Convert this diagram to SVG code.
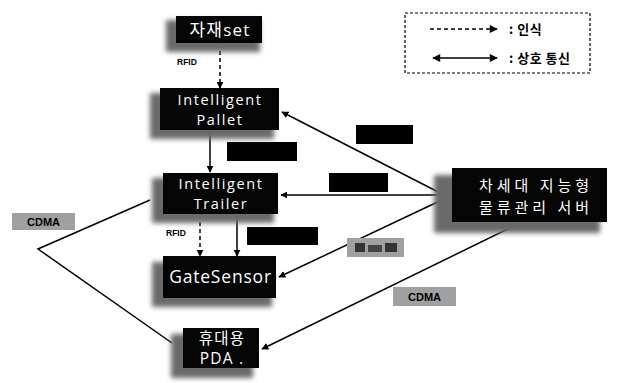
<svg xmlns="http://www.w3.org/2000/svg" width="629" height="383" viewBox="0 0 629 383">
  <defs>
    <filter id="haze" x="-30%" y="-30%" width="160%" height="160%">
      <feGaussianBlur stdDeviation="2.5"/>
    </filter>
    <marker id="tip" viewBox="0 0 10 10" refX="9" refY="5" markerWidth="7" markerHeight="7" orient="auto-start-reverse" markerUnits="userSpaceOnUse">
      <path d="M0,0 L10,5 L0,10 z" fill="#000"/>
    </marker>
    <marker id="tipLg" viewBox="0 0 10 10" refX="9" refY="5" markerWidth="10" markerHeight="8" orient="auto-start-reverse" markerUnits="userSpaceOnUse">
      <path d="M0,0 L10,5 L0,10 z" fill="#000"/>
    </marker>
  </defs>
  <style>
    .box { fill: #050505; }
    .shade { fill: #6a6a6a; filter: url(#haze); }
    .nt { fill: #fff; font-family: "Open Sans", "Noto Sans", "Noto Sans CJK KR", sans-serif; font-size: 14.5px; letter-spacing: 1.6px; text-anchor: middle; }
    .kr { fill: #fff; font-family: "Noto Sans CJK KR", sans-serif; font-size: 15px; text-anchor: middle; letter-spacing: 4px; }
    .tag { fill: #000; font-family: "Liberation Sans", Arial, sans-serif; font-size: 8.5px; font-weight: bold; }
    .cdma { fill: #000; font-family: "Liberation Sans", Arial, sans-serif; font-size: 11px; font-weight: bold; text-anchor: middle; }
    .lg { fill: #000; font-family: "Noto Sans CJK KR", sans-serif; font-size: 13px; font-weight: bold; letter-spacing: 0.5px; }
    .ln { stroke: #000; stroke-width: 1.5; fill: none; }
    .dash { stroke-dasharray: 4 3; }
    .blk { fill: #000; }
    .gry { fill: #a0a0a0; }
  </style>

  <rect width="629" height="383" fill="#fff"/>

  <!-- legend -->
  <g id="legend">
    <rect x="405" y="13" width="185" height="60" fill="none" stroke="#000" stroke-width="1.2" stroke-dasharray="3 2"/>
    <line x1="430" y1="29" x2="497" y2="29" class="ln dash" marker-end="url(#tipLg)"/>
    <text x="509" y="34" class="lg">: 인식</text>
    <line x1="433" y1="58" x2="497" y2="58" class="ln" marker-start="url(#tipLg)" marker-end="url(#tipLg)"/>
    <text x="509" y="63" class="lg">: 상호 통신</text>
  </g>

  <!-- connectors -->
  <g id="connectors">
    <line x1="220" y1="44" x2="220" y2="88" class="ln dash" marker-end="url(#tip)"/>
    <line x1="210" y1="131" x2="210" y2="172" class="ln" marker-end="url(#tip)"/>
    <line x1="200" y1="215" x2="200" y2="256" class="ln dash" marker-end="url(#tip)"/>
    <line x1="237" y1="215" x2="237" y2="256" class="ln" marker-end="url(#tip)"/>
    <line x1="446" y1="196" x2="282" y2="112" class="ln" marker-end="url(#tip)"/>
    <line x1="446" y1="195" x2="281" y2="195" class="ln" marker-end="url(#tip)"/>
    <line x1="446" y1="198" x2="279" y2="277" class="ln" marker-end="url(#tip)"/>
    <line x1="516" y1="225" x2="262" y2="349" class="ln" marker-end="url(#tip)"/>
    <polyline points="150,200 38,249 172,343" class="ln"/>

    <!-- edge labels -->
    <text x="177" y="65" class="tag">RFID</text>
    <text x="166" y="236" class="tag">RFID</text>
    <rect x="227" y="142" width="70" height="19" class="blk"/>
    <rect x="247" y="227" width="71" height="18" class="blk"/>
    <rect x="356" y="125" width="57" height="19" class="blk"/>
    <rect x="329" y="173" width="59" height="19" class="blk"/>
    <rect x="347" y="238" width="57" height="19" class="gry"/>
    <rect x="355" y="243" width="10" height="9" fill="#333"/>
    <rect x="368" y="245" width="14" height="7" fill="#444"/>
    <rect x="385" y="243" width="12" height="9" fill="#333"/>
    <rect x="12" y="213" width="63" height="17" class="gry"/>
    <text x="43.5" y="226" class="cdma">CDMA</text>
    <rect x="393" y="287" width="63" height="19" class="gry"/>
    <text x="424.5" y="301" class="cdma">CDMA</text>
  </g>

  <!-- nodes -->
  <g id="material">
    <rect x="166" y="20" width="94" height="32" class="shade"/>
    <rect x="176" y="16" width="86" height="27" class="box"/>
    <text x="220" y="36" class="nt" style="font-size:17px;letter-spacing:1.2px">자재set</text>
  </g>

  <g id="pallet">
    <rect x="150" y="93" width="124" height="46" class="shade"/>
    <rect x="160" y="88" width="119" height="42" class="box"/>
    <text x="220" y="105" class="nt">Intelligent</text>
    <text x="220" y="125" class="nt">Pallet</text>
  </g>

  <g id="trailer">
    <rect x="152" y="178" width="122" height="45" class="shade"/>
    <rect x="163" y="173" width="115" height="41" class="box"/>
    <text x="221" y="189" class="nt">Intelligent</text>
    <text x="221" y="209" class="nt">Trailer</text>
  </g>

  <g id="gatesensor">
    <rect x="152" y="262" width="120" height="45" class="shade"/>
    <rect x="163" y="256" width="113" height="42" class="box"/>
    <text x="220.5" y="283" class="nt" style="font-size:17.5px;letter-spacing:0.8px">GateSensor</text>
  </g>

  <g id="pda">
    <rect x="171" y="334" width="82" height="44" class="shade"/>
    <rect x="183" y="328" width="76" height="40" class="box"/>
    <text x="222" y="344" class="nt" style="font-size:15.5px;letter-spacing:1.2px">휴대용</text>
    <text x="222" y="364" class="nt" style="font-size:15.5px;letter-spacing:1.2px">PDA .</text>
  </g>

  <g id="server">
    <rect x="434" y="175" width="166" height="58" class="shade"/>
    <rect x="452" y="168" width="155" height="54" class="box"/>
    <text x="536" y="191" class="kr">차세대 지능형</text>
    <text x="536" y="213" class="kr">물류관리 서버</text>
  </g>
</svg>
